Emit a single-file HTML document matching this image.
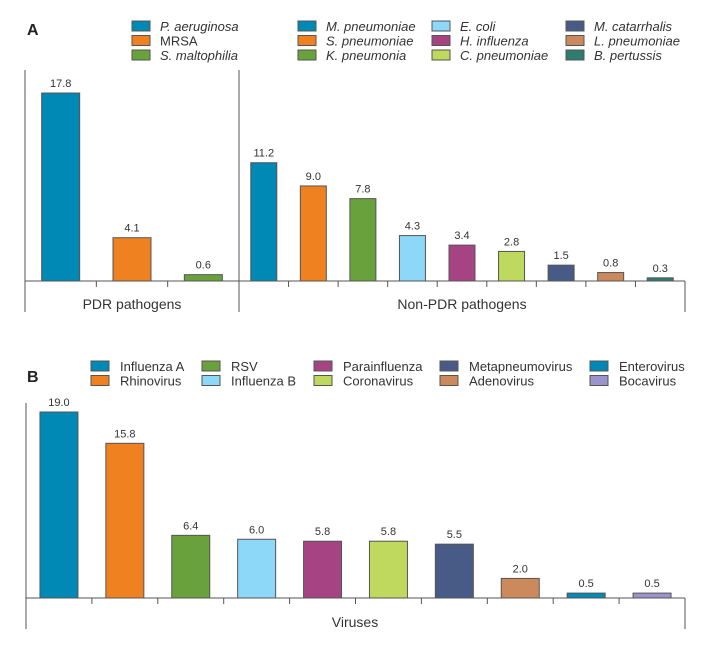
<!DOCTYPE html>
<html><head><meta charset="utf-8"><style>
html,body{margin:0;padding:0;background:#fff;}
svg{display:block;font-family:"Liberation Sans",sans-serif;}
</style></head><body>
<svg id="chart" width="705" height="655" viewBox="0 0 705 655"></svg>
<script>
// Panel A data
const pdrCategories = ["P. aeruginosa","MRSA","S. maltophilia"];
const pdrValues = [17.8, 4.1, 0.6];
const pdrColors = ["#0089b4","#f08121","#69a23c"];
const nonPdrCategories = ["M. pneumoniae","S. pneumoniae","K. pneumonia","E. coli","H. influenza","C. pneumoniae","M. catarrhalis","L. pneumoniae","B. pertussis"];
const nonPdrValues = [11.2, 9.0, 7.8, 4.3, 3.4, 2.8, 1.5, 0.8, 0.3];
const nonPdrColors = ["#0089b4","#f08121","#69a23c","#8dd8f8","#a64382","#bfd85e","#475b86","#cc8a5c","#2e7d6e"];
// Panel B data
const virusCategories = ["Influenza A","Rhinovirus","RSV","Influenza B","Parainfluenza","Coronavirus","Metapneumovirus","Adenovirus","Enterovirus","Bocavirus"];
const virusValues = [19.0, 15.8, 6.4, 6.0, 5.8, 5.8, 5.5, 2.0, 0.5, 0.5];
const virusColors = ["#0089b4","#f08121","#69a23c","#8dd8f8","#a64382","#bfd85e","#475b86","#cc8a5c","#0089b4","#9b93cc"];

const NS="http://www.w3.org/2000/svg";
const svg=document.getElementById('chart');
function mk(tag,attrs,parent){const e=document.createElementNS(NS,tag);for(const k in attrs)e.setAttribute(k,attrs[k]);(parent||svg).appendChild(e);return e;}
function txt(x,y,s,attrs,parent){const t=mk('text',Object.assign({x:x,y:y,fill:'#333'},attrs||{}),parent);t.textContent=s;return t;}
function fmt(v){return v.toFixed(1);}

const yA=v=>281-v*10.56;
const yB=v=>598-v*9.79;

function drawGroup(cats,vals,cols,x0,x1,barW,yFn,base,namePrefix){
  const n=cats.length,slot=(x1-x0)/n;
  for(let i=0;i<n;i++){
    const cx=x0+slot*(i+0.5),top=yFn(vals[i]);
    const r=mk('rect',{x:cx-barW/2,y:top,width:barW,height:base-top,fill:cols[i],stroke:'#555','stroke-width':1});
    
    
    const l=txt(cx,top-6,fmt(vals[i]),{'text-anchor':'middle','font-size':11});
    
    
    if(i>0){const t=mk('line',{x1:x0+slot*i,x2:x0+slot*i,y1:base,y2:base+6,stroke:'#555'});
      }
  }
}

txt(27,35,'A',{'font-size':16,'font-weight':'bold',fill:'#222'});
mk('line',{x1:25,x2:685,y1:281,y2:281,stroke:'#555'});
[25,239,685].forEach((x,i)=>{const l=mk('line',{x1:x,x2:x,y1:i==2?281:70,y2:312,stroke:'#555'});});
drawGroup(pdrCategories,pdrValues,pdrColors,25,239,38,yA,281,'pdr');
drawGroup(nonPdrCategories,nonPdrValues,nonPdrColors,239,685,26,yA,281,'non-pdr');
txt(132,309,'PDR pathogens',{'text-anchor':'middle','font-size':14});
txt(462,309,'Non-PDR pathogens',{'text-anchor':'middle','font-size':14});

function legend(items,cols,x,y0,dy,textDx,italic,prefix){
  items.forEach((s,i)=>{
    const y=y0+dy*i;
    const r=mk('rect',{x:x,y:y-5,width:18,height:10,fill:cols[i],stroke:'#555'});
    
    const it=italic && s!=='MRSA';
    const t=txt(x+textDx,y+5,s,{'font-size':13,'font-style':it?'italic':'normal'});
    
  });
}
legend(pdrCategories,pdrColors,132,26,14.5,28,true,'pdr');
legend(nonPdrCategories.slice(0,3),nonPdrColors.slice(0,3),298,26,14.5,28,true,'non-pdr');
legend(nonPdrCategories.slice(3,6),nonPdrColors.slice(3,6),432,26,14.5,28,true,'non-pdr');
legend(nonPdrCategories.slice(6,9),nonPdrColors.slice(6,9),566,26,14.5,28,true,'non-pdr');

txt(27,382,'B',{'font-size':16,'font-weight':'bold',fill:'#222'});
mk('line',{x1:26,x2:685,y1:598,y2:598,stroke:'#555'});
mk('line',{x1:26,x2:26,y1:403,y2:629,stroke:'#555'});
mk('line',{x1:685,x2:685,y1:598,y2:629,stroke:'#555'});
drawGroup(virusCategories,virusValues,virusColors,26,685,38,yB,598,'virus');
txt(355,627,'Viruses',{'text-anchor':'middle','font-size':14});
const legX=[91,202,314,440,590];
for(let c=0;c<5;c++){
  legend(virusCategories.slice(c*2,c*2+2),virusColors.slice(c*2,c*2+2),legX[c],366,14.5,29,false,'virus');
}
</script>
</body></html>
